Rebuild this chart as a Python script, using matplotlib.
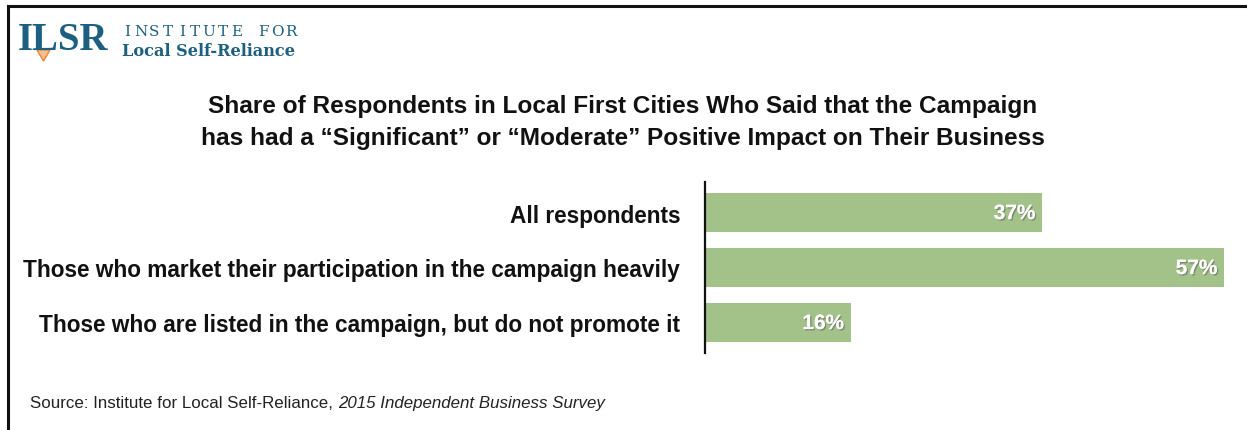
import matplotlib
matplotlib.use("Agg")
import matplotlib.pyplot as plt
import matplotlib.patheffects as pe
from matplotlib.lines import Line2D
from matplotlib.patches import Polygon

categories = [
    "All respondents",
    "Those who market their participation in the campaign heavily",
    "Those who are listed in the campaign, but do not promote it",
]
shares = [37, 57, 16]
value_labels = ["37%", "57%", "16%"]

title_lines = [
    "Share of Respondents in Local First Cities Who Said that the Campaign",
    "has had a \u201cSignificant\u201d or \u201cModerate\u201d Positive Impact on Their Business",
]
source_plain = "Source: Institute for Local Self-Reliance, "
source_italic = "2015 Independent Business Survey"

W, H = 1247, 431
BAR_COLOR = "#a3c28a"
LOGO_COLOR = "#1d5f7f"
FONT = "Liberation Sans"

fig = plt.figure(figsize=(W / 100, H / 100), dpi=100)
fig.patch.set_facecolor("white")

def fx(px):
    return px / W

def fy(py):
    return 1 - py / H

# frame lines (top and left)
fig.add_artist(Line2D([fx(8), 1.0], [fy(7), fy(7)], color="#111111", lw=2.2))
fig.add_artist(Line2D([fx(8), fx(8)], [fy(7), 0.0], color="#111111", lw=2.2))

# logo
fig.text(fx(18), fy(41), "ILSR", family="Liberation Serif", weight="bold",
         fontsize=28, color=LOGO_COLOR, va="center", ha="left")
fig.add_artist(Polygon([[fx(37), fy(51)], [fx(50), fy(51)], [fx(43.5), fy(62)]],
                       closed=True, facecolor="#f7c08a", edgecolor="#e8843a", lw=1.0))
for i, ch in enumerate("INSTITUTE FOR"):
    fig.text(fx(127 + i * 13.67), fy(31.5), ch, family="DejaVu Serif",
             fontsize=11, color=LOGO_COLOR, va="center", ha="center")
fig.text(fx(122), fy(51), "Local Self-Reliance", family="DejaVu Serif", weight="bold",
         fontsize=11.6, color=LOGO_COLOR, va="center", ha="left")

# title
for i, line in enumerate(title_lines):
    fig.text(fx(623), fy(107 + 31 * i), line, family=FONT, weight="bold",
             fontsize=17.6, ha="center", va="center", color="#111111")

# bar chart
ax_left, ax_right = 705, 1235
ax_top, ax_bottom = 183, 354
ax = fig.add_axes([fx(ax_left), fy(ax_bottom), fx(ax_right - ax_left), (ax_bottom - ax_top) / H])
px_per_unit = 9.1
ax.set_xlim(0, (ax_right - ax_left) / px_per_unit)
ax.set_ylim(2.555, -0.555)

y = list(range(len(categories)))
ax.barh(y, shares, height=0.71, color=BAR_COLOR, edgecolor="none", zorder=2)

for yi, v, lab in zip(y, shares, value_labels):
    ax.text(v - 0.7, yi + 0.02, lab, ha="right", va="center", fontsize=15, weight="bold",
            family=FONT, color="white", zorder=3,
            path_effects=[pe.withSimplePatchShadow(offset=(1, -1), shadow_rgbFace="#555555", alpha=0.5),
                          pe.Normal()])

ax.set_yticks(y)
ax.set_yticklabels(categories, family=FONT, weight="bold", fontsize=16.3, color="#111111")
ax.tick_params(axis="y", length=0, pad=18)
ax.set_xticks([])
for side in ["top", "right", "bottom"]:
    ax.spines[side].set_visible(False)
ax.spines["left"].set_linewidth(1.6)
ax.spines["left"].set_color("#111111")
ax.set_facecolor("none")

# source line
t = fig.text(fx(30), fy(404), source_plain, family=FONT, fontsize=12.2,
             ha="left", va="center", color="#222222")
fig.canvas.draw()
bb = t.get_window_extent()
fig.text(bb.x1 / W, fy(404), source_italic, family=FONT, style="italic", fontsize=12.2,
         ha="left", va="center", color="#222222")

fig.savefig("out.png", dpi=100, facecolor="white")
